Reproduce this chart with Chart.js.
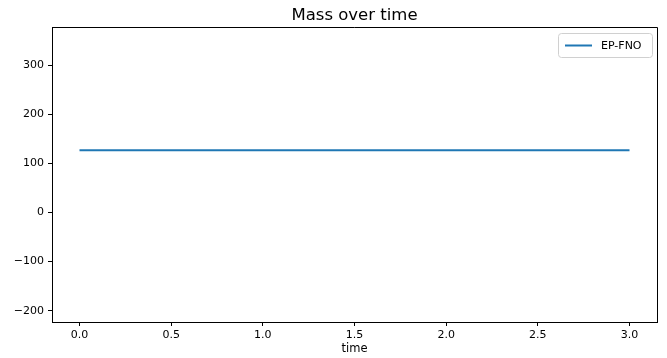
<!DOCTYPE html>
<html>
<head>
<meta charset="utf-8">
<script src="https://cdn.jsdelivr.net/npm/chart.js@4/dist/chart.umd.min.js"></script>
<style>
  html, body { margin: 0; padding: 0; background: #fff; }
  #wrap { width: 667px; height: 358px; }
</style>
</head>
<body>
<div id="wrap"><canvas id="mass-chart"></canvas></div>
<script>
// data
const timeValues = [0.0, 0.5, 1.0, 1.5, 2.0, 2.5, 3.0];
const massValues = [127, 127, 127, 127, 127, 127, 127];
const xTickValues = [0.0, 0.5, 1.0, 1.5, 2.0, 2.5, 3.0];
const yTickValues = [-200, -100, 0, 100, 200, 300];
const seriesLabel = 'EP-FNO';
const chartTitle = 'Mass over time';

const FONT = "'DejaVu Sans', sans-serif";
const LINE_COLOR = '#1f77b4';

// top + right spines and the title centred over the plot area
const framePlugin = {
  id: 'frameBox',
  afterDraw(chart) {
    const { ctx, chartArea: a } = chart;
    ctx.save();
    ctx.strokeStyle = '#000';
    ctx.lineWidth = 1;
    ctx.beginPath();
    ctx.moveTo(a.left, a.top + 0.5);
    ctx.lineTo(a.right + 0.5, a.top + 0.5);
    ctx.lineTo(a.right + 0.5, a.bottom);
    ctx.stroke();

    ctx.fillStyle = '#000';
    ctx.font = '16.5px ' + FONT;
    ctx.textAlign = 'center';
    ctx.textBaseline = 'middle';
    ctx.fillText(chartTitle, (a.left + a.right) / 2, 16);
    ctx.restore();
  }
};

// matplotlib-ish legend box in the upper right corner
const legendPlugin = {
  id: 'mplLegend',
  afterDraw(chart) {
    const { ctx, chartArea: a } = chart;
    const w = 94, h = 24;
    const x = a.right - 5 - w, y = a.top + 6;
    ctx.save();
    ctx.fillStyle = 'rgba(255,255,255,0.8)';
    ctx.strokeStyle = '#d0d0d0';
    ctx.lineWidth = 1;
    ctx.beginPath();
    ctx.roundRect(x + 0.5, y + 0.5, w, h, 3);
    ctx.fill();
    ctx.stroke();
    ctx.strokeStyle = LINE_COLOR;
    ctx.lineWidth = 2;
    ctx.beginPath();
    ctx.moveTo(x + 7, y + h / 2 + 0.5);
    ctx.lineTo(x + 34, y + h / 2 + 0.5);
    ctx.stroke();
    ctx.fillStyle = '#000';
    ctx.font = '11px ' + FONT;
    ctx.textBaseline = 'middle';
    ctx.fillText(seriesLabel, x + 43, y + h / 2 + 1);
    ctx.restore();
  }
};

new Chart(document.getElementById('mass-chart'), {
  type: 'line',
  data: {
    datasets: [{
      label: seriesLabel,
      data: timeValues.map((t, i) => ({ x: t, y: massValues[i] })),
      borderColor: LINE_COLOR,
      borderWidth: 2,
      pointRadius: 0,
      fill: false,
      tension: 0
    }]
  },
  options: {
    responsive: true,
    maintainAspectRatio: false,
    animation: false,
    layout: { padding: { left: 0, right: 10, top: 27, bottom: 0 } },
    plugins: {
      legend: { display: false },
      tooltip: { enabled: false },
      title: { display: false }
    },
    scales: {
      x: {
        type: 'linear',
        min: -0.15,
        max: 3.15,
        afterBuildTicks: (axis) => { axis.ticks = xTickValues.map(v => ({ value: v })); },
        afterFit: (axis) => { axis.height = 36; },
        grid: { display: true, drawOnChartArea: false, tickLength: 4, color: '#000' },
        border: { display: true, color: '#000', width: 1 },
        ticks: {
          color: '#000',
          font: { family: FONT, size: 11 },
          padding: 3,
          maxRotation: 0,
          callback: (v) => Number(v).toFixed(1)
        },
        title: {
          display: true,
          text: 'time',
          color: '#000',
          font: { family: FONT, size: 11.5 },
          padding: { top: 0, bottom: 2 }
        }
      },
      y: {
        type: 'linear',
        min: -223,
        max: 378,
        afterBuildTicks: (axis) => { axis.ticks = yTickValues.map(v => ({ value: v })); },
        afterFit: (axis) => { axis.width = 52; },
        grid: { display: true, drawOnChartArea: false, tickLength: 4, color: '#000' },
        border: { display: true, color: '#000', width: 1 },
        ticks: {
          color: '#000',
          font: { family: FONT, size: 11 },
          padding: 4,
          callback: (v) => (v < 0 ? '\u2212' + Math.abs(v) : String(v))
        }
      }
    }
  },
  plugins: [framePlugin, legendPlugin]
});
</script>
</body>
</html>
